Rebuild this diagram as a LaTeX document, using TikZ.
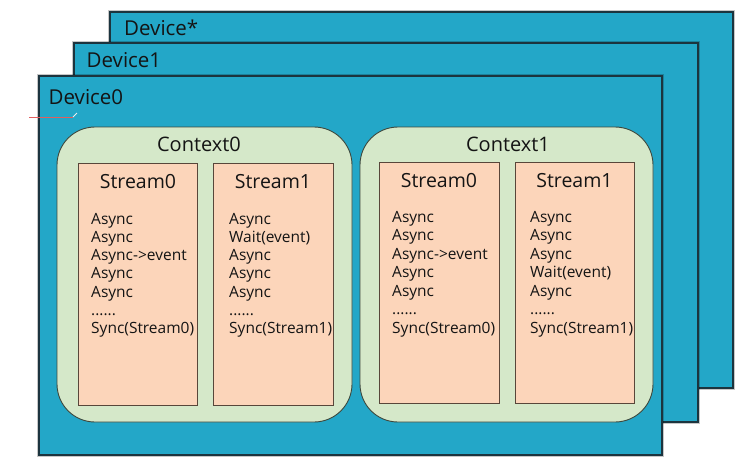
\documentclass[tikz,border=0pt]{standalone}
\usepackage{fontspec}
\setmainfont{Open Sans}
\definecolor{devblue}{RGB}{35,167,200}
\definecolor{devline}{RGB}{28,52,62}
\definecolor{ctxgreen}{RGB}{213,232,201}
\definecolor{ctxline}{RGB}{60,72,62}
\definecolor{strpeach}{RGB}{252,213,186}
\definecolor{strline}{RGB}{88,70,58}
\definecolor{txt}{RGB}{20,20,20}
\definecolor{redmark}{RGB}{225,95,95}
\newcommand\mysixdots{......}
\begin{document}
\begin{tikzpicture}[x=1pt,y=-1pt,
  devbox/.style={rectangle, anchor=north west, inner sep=0, outer sep=0,
    fill=devblue, draw=devline, line width=1.1pt,
    preaction={draw=black, opacity=0.22, line width=4pt}},
  ctxbox/.style={rectangle, anchor=north west, inner sep=0, outer sep=0,
    rounded corners=38pt, fill=ctxgreen, draw=ctxline, line width=0.9pt},
  strbox/.style={rectangle, anchor=north west, inner sep=0, outer sep=0,
    fill=strpeach, draw=strline, line width=0.9pt},
  devlabel/.style={anchor=base west, inner sep=0, text=txt, font=\fontsize{20.5}{24}\selectfont},
  title/.style={anchor=base, inner sep=0, text=txt, font=\fontsize{20}{24}\selectfont},
  strtitle/.style={anchor=base, inner sep=0, text=txt, font=\fontsize{19.5}{23}\selectfont},
  body/.style={anchor=base west, inner sep=0, text=txt, font=\fontsize{15.5}{18}\selectfont}]
\useasboundingbox (0,0) rectangle (745,459);
\fill[white] (0,0) rectangle (745,459);

% devices
\node[devbox, minimum width=623pt, minimum height=376pt] (dstar) at (110,12) {};
\node[devlabel] (ldstar) at (124,35) {Device*};
\node[devbox, minimum width=624pt, minimum height=379pt] (d1) at (74,43) {};
\node[devlabel] (ld1) at (86.5,67) {Device1};
\node[devbox, minimum width=623pt, minimum height=379pt] (d0) at (39,76) {};
\node[devlabel] (ld0) at (48.5,104.3) {Device0};

% small red mark
\coordinate (ra) at (29,117);
\coordinate (rb) at (73,117);
\coordinate (rc) at (77,113);
\draw[redmark, line width=1pt] (ra) -- (rb);
\draw[white!85!gray, line width=1pt] (rb) -- (rc);

% contexts
\node[ctxbox, minimum width=295pt, minimum height=295pt] (c0) at (57,127) {};
\node[title] (lc0) at (199,151.7) {Context0};
\node[ctxbox, minimum width=293pt, minimum height=295pt] (c1) at (360,127) {};
\node[title] (lc1) at (508,151.7) {Context1};

% streams
\node[strbox, minimum width=119pt, minimum height=242pt] (s00) at (78,163) {};
\node[strtitle] (ls00) at (138,188) {Stream0};
\node[strbox, minimum width=120pt, minimum height=242pt] (s01) at (213,163) {};
\node[strtitle] (ls01) at (273,188) {Stream1};
\node[strbox, minimum width=120pt, minimum height=241pt] (s10) at (379,162) {};
\node[strtitle] (ls10) at (439,187) {Stream0};
\node[strbox, minimum width=119pt, minimum height=241pt] (s11) at (515,162) {};
\node[strtitle] (ls11) at (574.5,187) {Stream1};

% stream bodies
\foreach \t [count=\i] in {Async,Async,Async->event,Async,Async,\mysixdots,Sync(Stream0)}
  \node[body] (a00\i) at (91,{224+18.33*(\i-1)}) {\t};
\foreach \t [count=\i] in {Async,Wait(event),Async,Async,Async,\mysixdots,Sync(Stream1)}
  \node[body] (a01\i) at (229,{224+18.33*(\i-1)}) {\t};
\foreach \t [count=\i] in {Async,Async,Async->event,Async,Async,\mysixdots,Sync(Stream0)}
  \node[body] (a10\i) at (392,{222+18.5*(\i-1)}) {\t};
\foreach \t [count=\i] in {Async,Async,Async,Wait(event),Async,\mysixdots,Sync(Stream1)}
  \node[body] (a11\i) at (530,{222+18.5*(\i-1)}) {\t};
\end{tikzpicture}
\end{document}
